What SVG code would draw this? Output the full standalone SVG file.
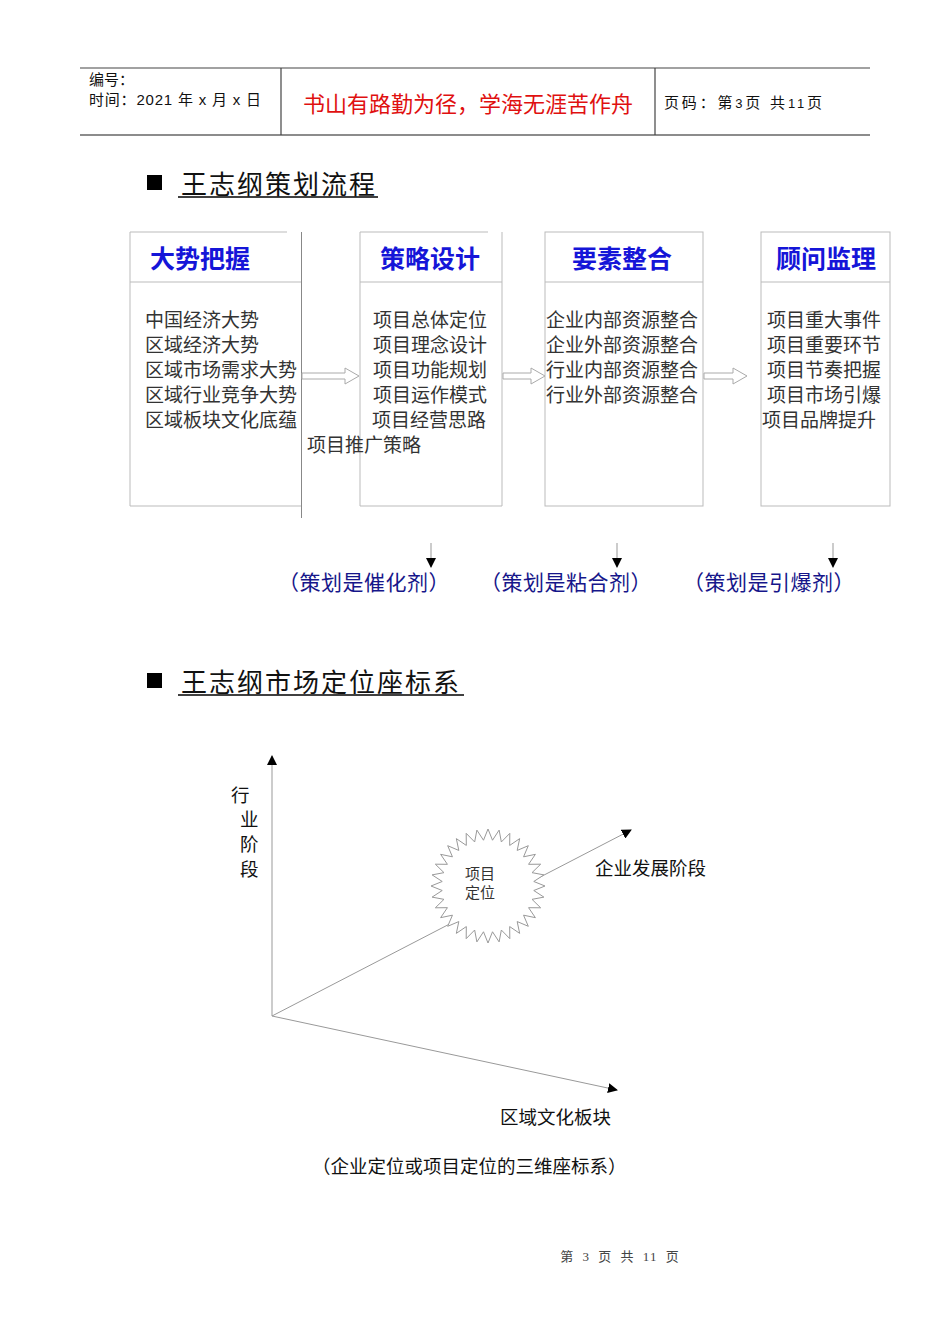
<svg xmlns="http://www.w3.org/2000/svg" width="950" height="1344" viewBox="0 0 950 1344">
<style>
.cjk{font-family:"Liberation Sans","Noto Sans CJK SC",sans-serif}
.hdr{font-size:15px;fill:#111}
.ttl{font-size:26px;fill:#111;letter-spacing:2px}
.boxh{font-size:25px;font-weight:bold;fill:#1515d8}
.body{font-size:19px;fill:#333}
.note{font-size:21px;fill:#16168a;letter-spacing:0.5px}
.lbl{font-size:18.5px;fill:#111}
.box{fill:#fff;stroke:#bbb;stroke-width:1}
.harr{fill:#fff;stroke:#aaa;stroke-width:1}
.axis{stroke:#999;stroke-width:1;fill:none}
</style>
<defs>
<marker id="ah" viewBox="0 0 10 10" refX="9" refY="5" markerWidth="10" markerHeight="10" markerUnits="userSpaceOnUse" orient="auto">
<path d="M0,0 L10,5 L0,10 z" fill="#000"/>
</marker>
</defs>
<rect width="950" height="1344" fill="#fff"/>

<g id="header">
<line x1="80" y1="68" x2="870" y2="68" stroke="#444" stroke-width="1.2"/>
<line x1="80" y1="135" x2="870" y2="135" stroke="#666" stroke-width="1.5"/>
<line x1="281" y1="68" x2="281" y2="135" stroke="#444" stroke-width="1.2"/>
<line x1="655" y1="68" x2="655" y2="135" stroke="#444" stroke-width="1.2"/>
<text class="cjk hdr" x="89" y="85">编号：</text>
<text class="cjk hdr" x="89" y="105" letter-spacing="0.8">时间：2021 年 x 月 x 日</text>
<text class="cjk" x="468" y="112" font-size="22" fill="#e01010" text-anchor="middle">书山有路勤为径，学海无涯苦作舟</text>
<text class="cjk hdr" x="664" y="108" textLength="158" lengthAdjust="spacing">页码：第<tspan font-size="13">3</tspan>页 共<tspan font-size="13">11</tspan>页</text>
</g>

<g id="title1">
<rect x="147" y="175" width="15" height="15" fill="#000"/>
<text class="cjk ttl" x="181" y="194">王志纲策划流程</text>
<line x1="178" y1="197" x2="378" y2="197" stroke="#000" stroke-width="1.5"/>
</g>

<g id="box1">
<rect x="130" y="232" width="171" height="274" fill="#fff"/>
<line x1="130" y1="232" x2="287" y2="232" stroke="#bbb"/>
<line x1="130" y1="232" x2="130" y2="506" stroke="#bbb"/>
<line x1="130" y1="506" x2="301" y2="506" stroke="#bbb"/>
<line x1="301.5" y1="232" x2="301.5" y2="518" stroke="#888"/>
<line x1="130" y1="282" x2="301" y2="282" stroke="#bbb"/>
<text class="cjk boxh" x="150" y="268">大势把握</text>
<text class="cjk body" x="145" y="327">中国经济大势</text>
<text class="cjk body" x="145" y="352">区域经济大势</text>
<text class="cjk body" x="145" y="377">区域市场需求大势</text>
<text class="cjk body" x="145" y="402">区域行业竞争大势</text>
<text class="cjk body" x="145" y="427">区域板块文化底蕴</text>
</g>

<g id="box2">
<rect x="360" y="232" width="142" height="274" fill="#fff"/>
<line x1="360" y1="232" x2="488" y2="232" stroke="#bbb"/>
<line x1="360" y1="232" x2="360" y2="506" stroke="#bbb"/>
<line x1="360" y1="506" x2="502" y2="506" stroke="#bbb"/>
<line x1="502" y1="232" x2="502" y2="506" stroke="#bbb"/>
<line x1="360" y1="282" x2="502" y2="282" stroke="#bbb"/>
<text class="cjk boxh" x="380" y="268">策略设计</text>
<text class="cjk body" x="373" y="327">项目总体定位</text>
<text class="cjk body" x="373" y="352">项目理念设计</text>
<text class="cjk body" x="373" y="377">项目功能规划</text>
<text class="cjk body" x="373" y="402">项目运作模式</text>
<text class="cjk body" x="372" y="427">项目经营思路</text>
<text class="cjk body" x="307" y="452">项目推广策略</text>
</g>

<g id="box3">
<rect class="box" x="545" y="232" width="158" height="274"/>
<line x1="545" y1="282" x2="703" y2="282" stroke="#bbb"/>
<text class="cjk boxh" x="572" y="268">要素整合</text>
<text class="cjk body" x="546" y="327">企业内部资源整合</text>
<text class="cjk body" x="546" y="352">企业外部资源整合</text>
<text class="cjk body" x="546" y="377">行业内部资源整合</text>
<text class="cjk body" x="546" y="402">行业外部资源整合</text>
</g>

<g id="box4">
<rect class="box" x="761" y="232" width="129" height="274"/>
<line x1="761" y1="282" x2="890" y2="282" stroke="#bbb"/>
<text class="cjk boxh" x="776" y="268">顾问监理</text>
<text class="cjk body" x="767" y="327">项目重大事件</text>
<text class="cjk body" x="767" y="352">项目重要环节</text>
<text class="cjk body" x="767" y="377">项目节奏把握</text>
<text class="cjk body" x="767" y="402">项目市场引爆</text>
<text class="cjk body" x="762" y="427">项目品牌提升</text>
</g>

<g id="connectors">
<polygon class="harr" points="302,373 345,373 345,368 359,376 345,384 345,379 302,379"/>
<polygon class="harr" points="503,373 531,373 531,368 545,376 531,384 531,379 503,379"/>
<polygon class="harr" points="704,373 733,373 733,368 747,376 733,384 733,379 704,379"/>
<line x1="431" y1="543" x2="431" y2="567" stroke="#999" marker-end="url(#ah)"/>
<line x1="617" y1="543" x2="617" y2="567" stroke="#999" marker-end="url(#ah)"/>
<line x1="833" y1="543" x2="833" y2="567" stroke="#999" marker-end="url(#ah)"/>
<line class="axis" x1="272" y1="1016" x2="272" y2="756" marker-end="url(#ah)"/>
<line class="axis" x1="272" y1="1016" x2="617" y2="1090" marker-end="url(#ah)"/>
<line class="axis" x1="272" y1="1016" x2="631" y2="830" marker-end="url(#ah)"/>
</g>

<g id="notes">
<text class="cjk note" x="278" y="590">（策划是催化剂）</text>
<text class="cjk note" x="480" y="590">（策划是粘合剂）</text>
<text class="cjk note" x="683" y="590">（策划是引爆剂）</text>
</g>

<g id="title2">
<rect x="147" y="673" width="15" height="15" fill="#000"/>
<text class="cjk ttl" x="181" y="692">王志纲市场定位座标系</text>
<line x1="178" y1="695" x2="464" y2="695" stroke="#000" stroke-width="1.5"/>
</g>

<g id="starburst" transform="translate(488,886)">
<polygon fill="#fff" stroke="#999" stroke-width="1" points="57,0 45.78,4.51 55.9,11.12 44.02,13.35 52.66,21.81 40.57,21.68 47.39,31.67 35.56,29.18 40.31,40.31 29.18,35.56 31.67,47.39 21.68,40.57 21.81,52.66 13.35,44.02 11.12,55.9 4.51,45.78 0,57 -4.51,45.78 -11.12,55.9 -13.35,44.02 -21.81,52.66 -21.68,40.57 -31.67,47.39 -29.18,35.56 -40.31,40.31 -35.56,29.18 -47.39,31.67 -40.57,21.68 -52.66,21.81 -44.02,13.35 -55.9,11.12 -45.78,4.51 -57,0 -45.78,-4.51 -55.9,-11.12 -44.02,-13.35 -52.66,-21.81 -40.57,-21.68 -47.39,-31.67 -35.56,-29.18 -40.31,-40.31 -29.18,-35.56 -31.67,-47.39 -21.68,-40.57 -21.81,-52.66 -13.35,-44.02 -11.12,-55.9 -4.51,-45.78 0,-57 4.51,-45.78 11.12,-55.9 13.35,-44.02 21.81,-52.66 21.68,-40.57 31.67,-47.39 29.18,-35.56 40.31,-40.31 35.56,-29.18 47.39,-31.67 40.57,-21.68 52.66,-21.81 44.02,-13.35 55.9,-11.12 45.78,-4.51"/>
<text x="-23" y="-7" font-family="Liberation Serif,Noto Sans CJK SC,serif" font-size="15" fill="#333">项目</text>
<text x="-23" y="12" font-family="Liberation Serif,Noto Sans CJK SC,serif" font-size="15" fill="#333">定位</text>
</g>

<g id="axis-labels">
<text class="cjk lbl" x="231" y="802">行</text>
<text class="cjk lbl" x="240" y="826">业</text>
<text class="cjk lbl" x="240" y="851">阶</text>
<text class="cjk lbl" x="240" y="876">段</text>
<text class="cjk lbl" x="595" y="875">企业发展阶段</text>
<text class="cjk lbl" x="500" y="1124">区域文化板块</text>
<text class="cjk lbl" x="312" y="1173">（企业定位或项目定位的三维座标系）</text>
</g>

<g id="footer">
<text x="620" y="1261" font-family="Liberation Serif,Noto Sans CJK SC,serif" font-size="13" fill="#444" text-anchor="middle" letter-spacing="1" word-spacing="4">第 3 页 共 11 页</text>
</g>
</svg>
